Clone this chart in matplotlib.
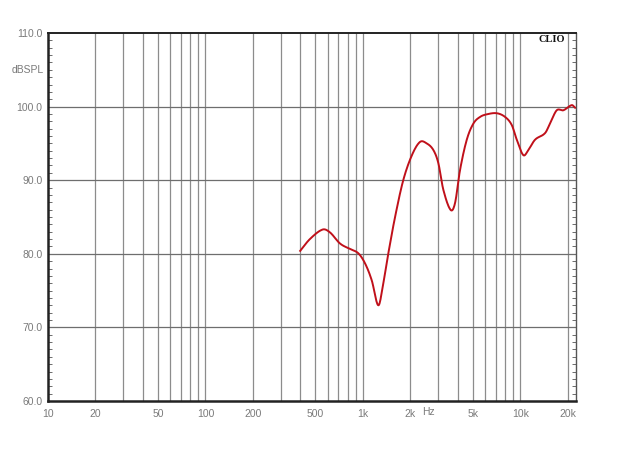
import matplotlib
matplotlib.use("Agg")
import matplotlib.pyplot as plt
import numpy as np
from matplotlib.ticker import FixedLocator, NullFormatter

freq_hz = [400, 461, 556, 619, 716, 829, 936, 1033, 1139, 1255, 1349, 1452, 1602, 1806,
           2050, 2307, 2546, 2806, 3019, 3246, 3616, 3853, 4145, 4573, 5038, 5555, 6124,
           7091, 8006, 8831, 9504, 10465, 11260, 12412, 14376, 15457, 17046, 18783, 21243, 22300]
spl_db = [80.4, 82.0, 83.3, 82.9, 81.4, 80.65, 80.07, 78.7, 76.4, 73.0, 76.0, 80.07, 85.0, 90.0,
          93.4, 95.2, 95.0, 94.1, 92.3, 88.7, 85.95, 86.9, 91.4, 95.5, 97.7, 98.6, 98.95,
          99.1, 98.6, 97.5, 95.5, 93.4, 94.1, 95.5, 96.4, 97.7, 99.5, 99.5, 100.2, 99.85]

x_tick_vals = [10, 20, 50, 100, 200, 500, 1000, 2000, 5000, 10000, 20000]
x_tick_labels = ["10", "20", "50", "100", "200", "500", "1k", "2k", "5k", "10k", "20k"]
y_tick_vals = [60, 70, 80, 90, 100, 110]
y_tick_labels = ["60.0", "70.0", "80.0", "90.0", "100.0", "110.0"]

plt.rcParams['font.family'] = ['Liberation Sans', 'DejaVu Sans']

fig = plt.figure(figsize=(6.23, 4.67), dpi=100)
ax = fig.add_axes([48/623, 66/467, 528/623, 368/467])

# smooth curve through points in log-frequency space
lf = np.log10(freq_hz)
xs = np.linspace(lf[0], lf[-1], 600)
# Catmull-Rom style interpolation
def catmull(x, y, xs):
    x = np.asarray(x); y = np.asarray(y)
    out = np.empty_like(xs)
    n = len(x)
    m = np.zeros(n)
    for i in range(n):
        if i == 0:
            m[i] = (y[1]-y[0])/(x[1]-x[0])
        elif i == n-1:
            m[i] = (y[-1]-y[-2])/(x[-1]-x[-2])
        else:
            m[i] = (y[i+1]-y[i-1])/(x[i+1]-x[i-1])
    for k, xv in enumerate(xs):
        i = min(np.searchsorted(x, xv) - 1, n-2)
        i = max(i, 0)
        h = x[i+1]-x[i]
        t = (xv-x[i])/h
        h00 = 2*t**3-3*t**2+1; h10 = t**3-2*t**2+t
        h01 = -2*t**3+3*t**2; h11 = t**3-t**2
        out[k] = h00*y[i]+h10*h*m[i]+h01*y[i+1]+h11*h*m[i+1]
    return out
ys = catmull(lf, spl_db, xs)

ax.set_xscale('log')
ax.set_xlim(10, 22600)
ax.set_ylim(60, 110)

grid_x = [m*10**d for d in range(1, 5) for m in range(1, 10) if 20 <= m*10**d <= 20000]
for gx in grid_x:
    ax.axvline(gx, color='#8c8c8c', lw=0.9, zorder=1)
for gy in y_tick_vals[1:-1]:
    ax.axhline(gy, color='#6e6e6e', lw=0.9, zorder=1)

ax.plot(10**xs, ys, color='#c0101a', lw=1.4, zorder=3)

ax.xaxis.set_major_locator(FixedLocator(x_tick_vals))
ax.set_xticks(x_tick_vals)
ax.set_xticklabels(x_tick_labels)
ax.xaxis.set_minor_locator(FixedLocator([]))
ax.xaxis.set_minor_formatter(NullFormatter())
ax.set_yticks(y_tick_vals)
ax.set_yticklabels(y_tick_labels)
ax.set_yticks(np.arange(60, 111, 1), minor=True)
ax.tick_params(axis='x', which='both', length=0, pad=6, labelsize=7.5, labelcolor='#7a7a7a')
ax.tick_params(axis='y', which='major', length=0, pad=4, labelsize=7.5, labelcolor='#7a7a7a')
ax.tick_params(axis='y', which='minor', direction='in', length=3, width=0.6, color='#555555',
               left=True, right=True)

for s in ['left', 'bottom', 'top']:
    ax.spines[s].set_color('#222222')
ax.spines['left'].set_linewidth(1.8)
ax.spines['bottom'].set_linewidth(1.8)
ax.spines['top'].set_linewidth(1.4)
ax.spines['right'].set_color('#555555')
ax.spines['right'].set_linewidth(1.0)

fig.text(44/623, 1-70/467, "dBSPL", ha='right', va='center', fontsize=7.5, color='#7a7a7a')
fig.text(428/623, 1-412/467, "Hz", ha='center', va='center', fontsize=7.5, color='#7a7a7a')
fig.text(565/623, 1-40/467, "CLIO", ha='right', va='center', fontsize=7.5, fontweight='bold',
         family='Liberation Serif', color='#111111')

fig.savefig("out.png", dpi=100)
